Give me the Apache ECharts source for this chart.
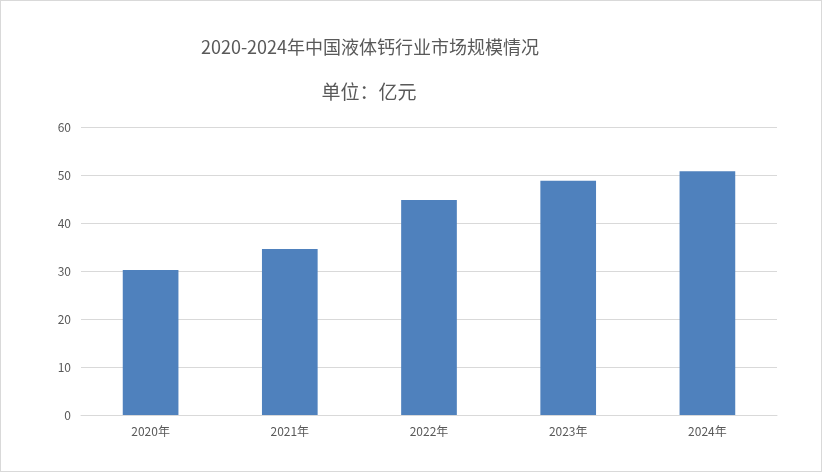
<!DOCTYPE html>
<html>
<head>
<meta charset="utf-8">
<script src="https://cdn.jsdelivr.net/npm/echarts@6/dist/echarts.min.js"></script>
<style>
    html, body { margin: 0; padding: 0; background: #fff; }
    #chart { width: 820px; height: 470px; border: 1px solid #d9d9d9; }
</style>
</head>
<body>
<div id="chart"></div>
<script>
var years = ['2020年', '2021年', '2022年', '2023年', '2024年'];
var marketSize = [30.2, 34.6, 44.8, 48.8, 50.8];   // 亿元

var fontCJK = '"Noto Sans CJK SC", "Microsoft YaHei", sans-serif';

var chart = echarts.init(document.getElementById('chart'));
var option = {
    animation: false,
    title: [
        {
            text: '2020-2024年中国液体钙行业市场规模情况',
            left: 364, top: 32,
            textAlign: 'center',
            textStyle: { fontFamily: fontCJK, fontSize: 18, fontWeight: 'normal', color: '#595959' }
        },
        {
            text: '单位：亿元',
            left: 363, top: 76,
            textAlign: 'center',
            textStyle: { fontFamily: fontCJK, fontSize: 19, fontWeight: 'normal', color: '#595959' }
        }
    ],
    grid: { left: 80, right: 44, top: 126, bottom: 56, containLabel: false },
    xAxis: {
        type: 'category',
        data: years,
        axisLine: { lineStyle: { color: '#d9d9d9' } },
        axisTick: { show: false },
        axisLabel: { color: '#595959', fontFamily: fontCJK, fontSize: 12, margin: 10 }
    },
    yAxis: {
        type: 'value',
        min: 0, max: 60, interval: 10,
        axisLine: { show: false },
        axisTick: { show: false },
        axisLabel: { color: '#595959', fontFamily: fontCJK, fontSize: 12, margin: 10 },
        splitLine: { lineStyle: { color: '#d9d9d9' } }
    },
    series: [{
        type: 'bar',
        data: marketSize,
        barWidth: '40%',
        itemStyle: { color: '#4f81bd' }
    }]
};
chart.setOption(option);
</script>
</body>
</html>
